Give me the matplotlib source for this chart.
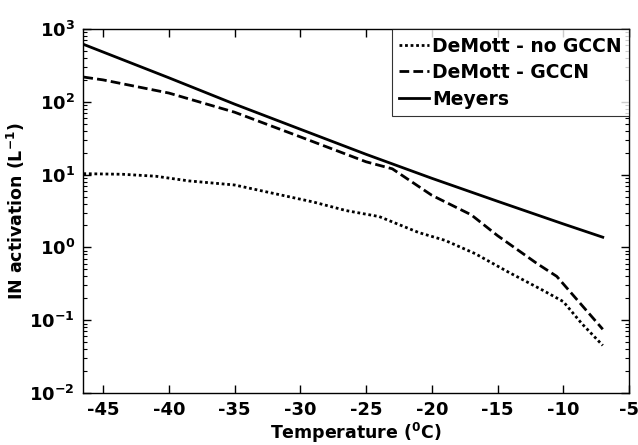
import matplotlib
matplotlib.use('Agg')
import matplotlib.pyplot as plt
from matplotlib.ticker import LogLocator, NullFormatter, MultipleLocator

# values (temperature in degC, IN in per litre)
t_meyers = [-46.5, -40, -35, -30, -25, -20, -15, -10, -7]
n_meyers = [617, 214, 93, 42, 19, 8.9, 4.3, 2.1, 1.38]

t_gccn = [-46.5, -45, -40, -35, -30, -25, -23, -20, -17, -15, -12, -10.5, -7]
n_gccn = [219, 200, 132, 72, 33, 15, 12, 5.2, 2.8, 1.45, 0.6, 0.4, 0.075]

t_nogccn = [-46.5, -43.5, -41, -38.5, -35, -32, -29, -26.5, -24, -21, -19,
            -16.7, -14.2, -11.6, -10, -8.6, -7]
n_nogccn = [10.3, 10.1, 9.5, 8.2, 7.2, 5.5, 4.2, 3.2, 2.65, 1.6, 1.25,
            0.82, 0.46, 0.26, 0.18, 0.09, 0.045]

plt.rcParams['font.family'] = 'DejaVu Sans'
plt.rcParams['font.weight'] = 'bold'
plt.rcParams['axes.labelweight'] = 'bold'
plt.rcParams['axes.unicode_minus'] = False
plt.rcParams['mathtext.fontset'] = 'custom'
plt.rcParams['mathtext.rm'] = 'DejaVu Sans:bold'
plt.rcParams['mathtext.it'] = 'DejaVu Sans:bold'
plt.rcParams['mathtext.bf'] = 'DejaVu Sans:bold'

fig = plt.figure(figsize=(6.38, 4.45), dpi=100)
ax = fig.add_axes([0.1306, 0.1169, 0.8554, 0.8179])

ax.plot(t_nogccn, n_nogccn, color='black', linestyle=(0, (1, 1)), linewidth=2.0,
        label='DeMott - no GCCN')
ax.plot(t_gccn, n_gccn, color='black', linestyle=(0, (3.5, 1.5)), linewidth=2.0,
        label='DeMott - GCCN')
ax.plot(t_meyers, n_meyers, color='black', linestyle='-', linewidth=2.0,
        label='Meyers')

ax.set_yscale('log')
ax.set_xlim(-46.5, -5)
ax.set_ylim(1e-2, 1e3)
ax.xaxis.set_major_locator(MultipleLocator(5))
ax.yaxis.set_major_locator(LogLocator(base=10, numticks=10))
ax.yaxis.set_minor_locator(LogLocator(base=10, subs=range(2, 10), numticks=20))
ax.yaxis.set_minor_formatter(NullFormatter())

ax.tick_params(which='both', direction='in', top=True, right=True,
               labelsize=13, pad=6)
ax.tick_params(which='major', length=6, width=1)
ax.tick_params(which='minor', length=3, width=0.8)

for s in ax.spines.values():
    s.set_linewidth(1.0)
    s.set_color('black')

ax.set_xlabel(r'Temperature ($^{0}$C)', fontsize=12.5, labelpad=1)
ax.set_ylabel(r'IN activation (L$^{-1}$)', fontsize=12.5, labelpad=2)

leg = ax.legend(loc='upper right', fontsize=13.5, frameon=True, fancybox=False,
                borderaxespad=0, handlelength=1.6, handletextpad=0.15,
                borderpad=0.4, labelspacing=0.4)
leg.get_frame().set_edgecolor('black')
leg.get_frame().set_linewidth(0.8)

fig.savefig('out.png', dpi=100)
